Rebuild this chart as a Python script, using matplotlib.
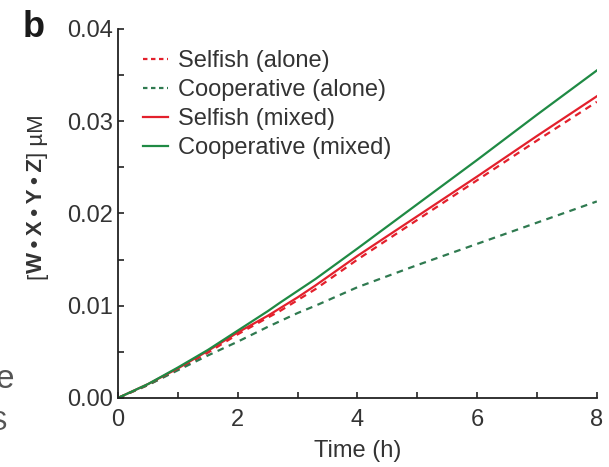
import matplotlib
matplotlib.use("Agg")
import matplotlib.pyplot as plt
from matplotlib.ticker import MultipleLocator, FormatStrFormatter

plt.rcParams['font.family'] = ['Liberation Sans', 'DejaVu Sans']

time_h = [0, 0.5, 1, 1.5, 2, 2.5, 2.7, 3, 3.3, 4, 5, 6, 7, 8]
selfish_alone = [0, 0.0014, 0.0031, 0.0049, 0.0069, 0.0087, 0.0094, 0.0106, 0.0118, 0.0150, 0.0193, 0.0236, 0.0279, 0.0321]
coop_alone = [0, 0.0014, 0.0030, 0.0046, 0.0061, 0.0077, 0.0083, 0.0092, 0.0100, 0.0120, 0.0144, 0.0167, 0.0190, 0.0213]
selfish_mixed = [0, 0.0015, 0.0032, 0.0051, 0.0071, 0.0089, 0.0097, 0.0109, 0.0122, 0.0154, 0.0197, 0.0240, 0.0284, 0.0327]
coop_mixed = [0, 0.0015, 0.0033, 0.0052, 0.0073, 0.0094, 0.0103, 0.0116, 0.0129, 0.0162, 0.0210, 0.0258, 0.0307, 0.0355]

labels = ["Selfish (alone)", "Cooperative (alone)", "Selfish (mixed)", "Cooperative (mixed)"]
ylabel_parts = [("[", "normal"), ("W\u2009•\u2009X\u2009•\u2009Y\u2009•\u2009Z", "bold"), ("] µM", "normal")]
red = "#e3202c"
green = "#1f8a44"
green_d = "#2f7a50"
txt = '#333333'

W, H = 609, 467
fig = plt.figure(figsize=(W / 100, H / 100), dpi=100)
ax = fig.add_axes([0.194, 0.148, 0.786, 0.79])

ax.plot(time_h, selfish_alone, color=red, lw=1.6, ls=(0, (3, 2.5)), label=labels[0])
ax.plot(time_h, coop_alone, color=green_d, lw=1.6, ls=(0, (3, 2.5)), label=labels[1])
ax.plot(time_h, selfish_mixed, color=red, lw=1.6, label=labels[2])
ax.plot(time_h, coop_mixed, color=green, lw=1.6, label=labels[3])

ax.set_xlim(0, 8)
ax.set_ylim(0, 0.04)
ax.xaxis.set_major_locator(MultipleLocator(2))
ax.xaxis.set_minor_locator(MultipleLocator(1))
ax.yaxis.set_major_locator(MultipleLocator(0.01))
ax.yaxis.set_minor_locator(MultipleLocator(0.005))
ax.yaxis.set_major_formatter(FormatStrFormatter('%.2f'))
for s in ['top', 'right']:
    ax.spines[s].set_visible(False)
for s in ['left', 'bottom']:
    ax.spines[s].set_linewidth(1.3)
    ax.spines[s].set_color('#222222')
ax.tick_params(which='both', direction='in', length=4, width=1.2, colors='#222222',
               labelsize=17, labelcolor=txt)
ax.tick_params(axis='y', pad=4)
ax.tick_params(axis='x', pad=8)

ax.set_xlabel("Time (h)", fontsize=17, color=txt)
ax.xaxis.set_label_coords(0.5, -0.115)

leg = ax.legend(loc='upper left', bbox_to_anchor=(0.033, 0.968), frameon=False, fontsize=17,
                handlelength=1.05, handletextpad=0.42, labelspacing=0.3, borderaxespad=0,
                borderpad=0.4, labelcolor=txt)
for h in leg.get_lines()[:2]:
    h.set_linestyle((0, (2.0, 1.6)))

# y label assembled from regular and bold pieces, stacked bottom to top
fig.canvas.draw()
renderer = fig.canvas.get_renderer()
y_px = H - 279
for s, wgt in ylabel_parts:
    t = fig.text(37 / W, y_px / H, s, rotation=90, ha='center', va='bottom',
                 fontsize=16, fontweight=wgt, color=txt)
    ext = t.get_window_extent(renderer)
    y_px += ext.height

fig.text(23 / W, 1 - 37 / H, "b", fontsize=26, fontweight='bold', color='#1a1a1a', va='baseline')
fig.text(14 / W, 1 - 388 / H, "e", fontsize=24, color='#555555', va='baseline', ha='right')
fig.text(7 / W, 1 - 430 / H, "S", fontsize=20, color='#555555', va='baseline', ha='right')

fig.savefig("out.png", dpi=100)
